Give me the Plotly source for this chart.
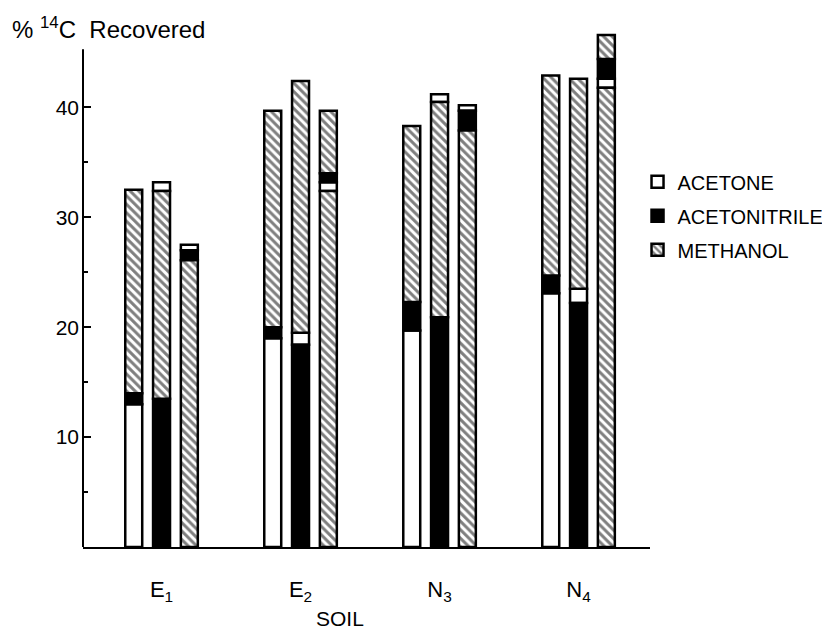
import plotly.graph_objects as go

# ---------------- data ----------------
soils = ["E<sub>1</sub>", "E<sub>2</sub>", "N<sub>3</sub>", "N<sub>4</sub>"]
solvents = ["ACETONE", "ACETONITRILE", "METHANOL"]

# 12 bars: 3 per soil, each a stack of solvent fractions from the bottom up
bar_soil = [0, 0, 0, 1, 1, 1, 2, 2, 2, 3, 3, 3]
bar_slot = [0, 1, 2, 0, 1, 2, 0, 1, 2, 0, 1, 2]
bar_order = [
    ["ACETONE", "ACETONITRILE", "METHANOL"],
    ["ACETONITRILE", "METHANOL", "ACETONE"],
    ["METHANOL", "ACETONITRILE", "ACETONE"],
    ["ACETONE", "ACETONITRILE", "METHANOL"],
    ["ACETONITRILE", "ACETONE", "METHANOL"],
    ["METHANOL", "ACETONE", "ACETONITRILE", "METHANOL"],
    ["ACETONE", "ACETONITRILE", "METHANOL"],
    ["ACETONITRILE", "METHANOL", "ACETONE"],
    ["METHANOL", "ACETONITRILE", "ACETONE"],
    ["ACETONE", "ACETONITRILE", "METHANOL"],
    ["ACETONITRILE", "ACETONE", "METHANOL"],
    ["METHANOL", "ACETONE", "ACETONITRILE", "METHANOL"],
]
# % 14C recovered in each stacked fraction (same order as bar_order)
bar_values = [
    [13.0, 1.0, 18.5],
    [13.5, 18.9, 0.8],
    [26.1, 0.9, 0.5],
    [19.0, 1.0, 19.7],
    [18.4, 1.1, 22.9],
    [32.4, 0.8, 0.8, 5.7],
    [19.7, 2.6, 16.0],
    [20.9, 19.6, 0.7],
    [37.9, 1.8, 0.5],
    [23.1, 1.6, 18.2],
    [22.2, 1.3, 19.1],
    [41.8, 0.8, 1.8, 2.2],
]

y_ticks = [10, 20, 30, 40]
y_minor_ticks = [5, 15, 25, 35]

# ---------------- styles ----------------
FONT = "Liberation Sans"
style = {
    "ACETONE": dict(color="white", pattern=dict(shape="")),
    "ACETONITRILE": dict(color="black", pattern=dict(shape="")),
    "METHANOL": dict(color="white",
                     pattern=dict(shape="\\", fgcolor="black", bgcolor="white",
                                  size=6, solidity=0.5)),
}
SLOT_STEP = 0.2
BAR_W = 0.122

# ---------------- build segments ----------------
segs = {s: dict(x=[], base=[], y=[]) for s in solvents}
for i in range(len(bar_values)):
    xpos = bar_soil[i] + (bar_slot[i] - 1) * SLOT_STEP
    bottom = 0.0
    for solv, val in zip(bar_order[i], bar_values[i]):
        segs[solv]["x"].append(xpos)
        segs[solv]["base"].append(bottom)
        segs[solv]["y"].append(val)
        bottom += val

fig = go.Figure()
for solv in solvents:
    st = style[solv]
    fig.add_trace(go.Bar(
        name=solv, x=segs[solv]["x"], y=segs[solv]["y"], base=segs[solv]["base"],
        width=BAR_W, legendgroup=solv,
        marker=dict(color=st["color"], pattern=st["pattern"],
                    line=dict(color="black", width=2.5)),
    ))

# the page body adds an 8px margin, so the figure is 8px smaller than the window
fig.update_layout(
    width=822, height=624,
    barmode="overlay",
    plot_bgcolor="white", paper_bgcolor="white",
    margin=dict(l=75, r=180, t=17, b=85, autoexpand=False),
    font=dict(family=FONT, color="black", size=18),
    legend=dict(x=0.978, y=0.737, xanchor="left", yanchor="top",
                font=dict(family=FONT, size=20, color="black"),
                traceorder="grouped", tracegroupgap=5,
                itemwidth=30, bgcolor="rgba(0,0,0,0)"),
    xaxis=dict(range=[-0.565, 3.514], tickvals=list(range(len(soils))),
               ticktext=soils, showline=True, linecolor="black", linewidth=2,
               ticks="", showgrid=False, zeroline=False, automargin=False,
               ticklabelstandoff=22, tickfont=dict(size=22)),
    yaxis=dict(range=[0, 47.5], tickvals=y_ticks, ticks="inside", ticklen=8,
               tickwidth=2, tickcolor="black", showline=False, showgrid=False,
               zeroline=False, automargin=False, tickfont=dict(size=21),
               ticklabelstandoff=3,
               minor=dict(tickvals=y_minor_ticks, ticks="inside", ticklen=5,
                          tickwidth=2, tickcolor="black", showgrid=False)),
    shapes=[dict(type="line", xref="paper", yref="y", x0=0, x1=0, y0=0, y1=45.3,
                 line=dict(color="black", width=2))],
    annotations=[
        dict(text="% <sup>14</sup>C  Recovered", xref="paper", yref="paper",
             x=-0.129, y=0.994, xanchor="left", yanchor="middle", showarrow=False,
             font=dict(family=FONT, size=24, color="black")),
        dict(text="SOIL", xref="paper", yref="paper", x=0.453, y=-0.137,
             xanchor="center", yanchor="middle", showarrow=False,
             font=dict(family=FONT, size=21, color="black")),
    ],
)

fig.write_html("out.html")
